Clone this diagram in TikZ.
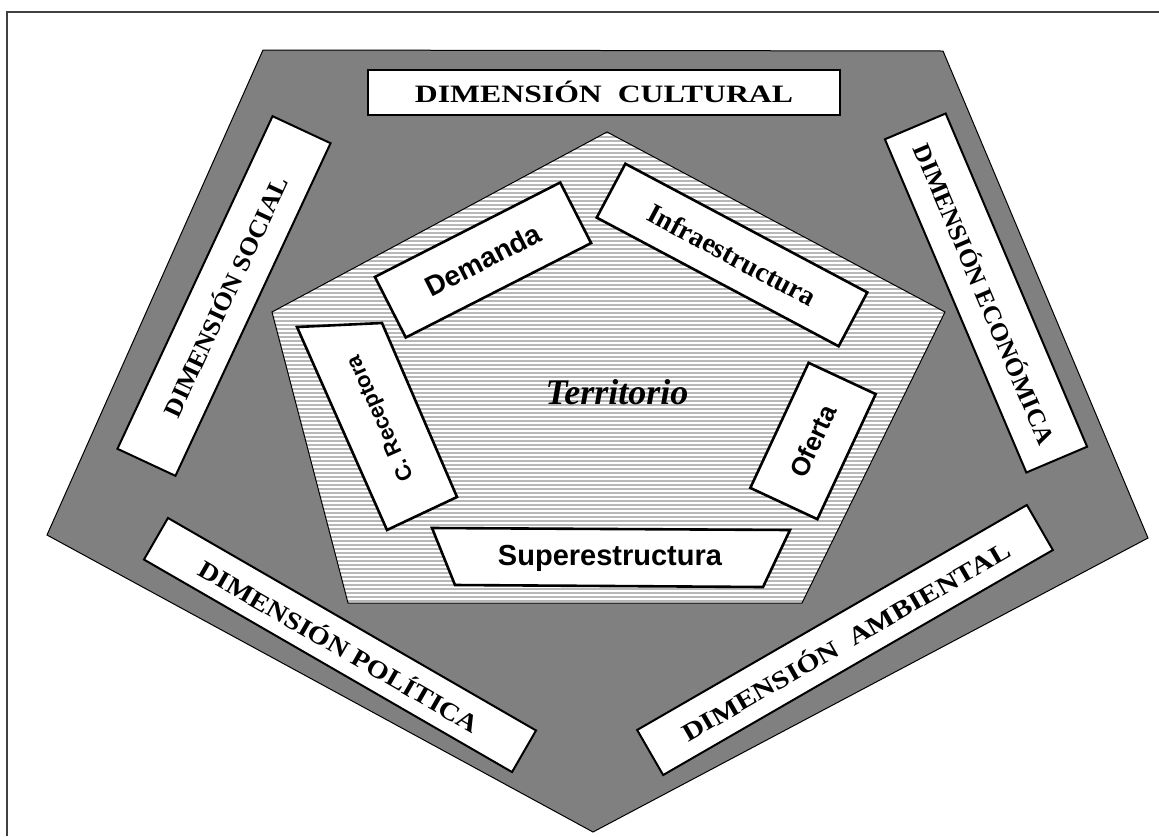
\documentclass[tikz,border=0pt]{standalone}
\usepackage{graphicx}
\usepackage{fontspec}
\setmainfont{Liberation Serif}
\setsansfont{Liberation Sans}
\begin{document}
\begin{tikzpicture}
  [x=1pt,y=-1pt,
   dimbox/.style={draw,fill=white,line width=2pt,inner sep=0pt,
     font=\bfseries\fontsize{25}{25}\selectfont},
   inbox/.style={draw,fill=white,line width=2.6pt,inner sep=0pt,
     font=\sffamily\bfseries\fontsize{28}{28}\selectfont},
   boxline/.style={draw,fill=white,line width=2.6pt}]
  \useasboundingbox (0,0) rectangle (1159,836);
  \draw[line width=1.2pt,black!75] (7,836) -- (7,12) -- (1159,12);

  % outer pentagon
  \draw[fill=black!50,line width=1pt] (263,50) -- (943,51) -- (1148,538) -- (593,832) -- (47,535) -- cycle;

  % inner pentagon, striped
  \coordinate (t1) at (607,132);
  \coordinate (t2) at (945,312);
  \coordinate (t3) at (802,603);
  \coordinate (t4) at (348,603);
  \coordinate (t5) at (272,312);
  \begin{scope}
    \clip (t1) -- (t2) -- (t3) -- (t4) -- (t5) -- cycle;
    \fill[white] (260,120) rectangle (960,610);
    \foreach \y in {133,137,...,605}
      \draw[black!28,line width=1.6pt] (260,\y) -- (960,\y);
  \end{scope}
  \draw[line width=1pt] (t1) -- (t2) -- (t3) -- (t4) -- (t5) -- cycle;

  % dimensions
  \node[dimbox,minimum width=472pt,minimum height=45pt] (cultural) at (604,92)
    {\scalebox{1.27}[1]{DIMENSIÓN\ \ CULTURAL}};
  \node[dimbox,minimum width=367pt,minimum height=64pt,rotate=65] (social) at (224,296)
    {\scalebox{1.05}[1]{DIMENSIÓN\ SOCIAL}};
  \node[dimbox,minimum width=362pt,minimum height=66pt,rotate=-67] (economica) at (986,293)
    {\scalebox{1.03}[1]{DIMENSIÓN\ ECONÓMICA}};
  \node[dimbox,minimum width=425pt,minimum height=48pt,rotate=-30] (politica) at (340,645)
    {\scalebox{1.15}[1]{DIMENSIÓN\ POLÍTICA}};
  \node[dimbox,minimum width=450pt,minimum height=52pt,rotate=30] (ambiental) at (845,640)
    {\scalebox{1.2}[1]{DIMENSIÓN\ \ AMBIENTAL}};

  % territory components
  \node[inbox,minimum width=208pt,minimum height=68pt,rotate=27] (demanda) at (483,260) {Demanda};
  \node[inbox,minimum width=274pt,minimum height=61pt,rotate=-28,
    font=\rmfamily\bfseries\fontsize{28}{28}\selectfont] (infra) at (732,255) {Infraestructura};
  \node[inbox,minimum width=138pt,minimum height=74pt,rotate=65,
    font=\sffamily\bfseries\fontsize{26}{26}\selectfont] (oferta) at (813,441) {Oferta};
  \draw[boxline] (297,327) -- (382,323) -- (457,497) -- (387,530) -- cycle;
  \node[font=\sffamily\bfseries\fontsize{22}{22}\selectfont,rotate=114] (receptora) at (381,418) {C. Receptora};
  \draw[boxline] (432,528) -- (790,530) -- (763,587) -- (455,585) -- cycle;
  \node[font=\sffamily\bfseries\fontsize{29}{29}\selectfont] (superestructura) at (610,558) {Superestructura};

  \node[font=\bfseries\itshape\fontsize{36}{36}\selectfont] (territorio) at (617,392) {Territorio};
\end{tikzpicture}
\end{document}
